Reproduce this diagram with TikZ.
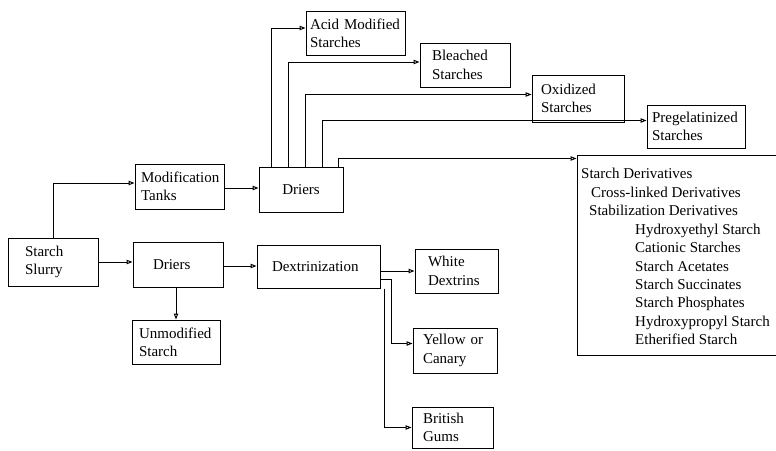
\documentclass[tikz,border=0pt]{standalone}
\usepackage{fontspec}
\setmainfont{Liberation Serif}
\usetikzlibrary{arrows.meta}
\hyphenpenalty=10000
\exhyphenpenalty=10000
\begin{document}
\begin{tikzpicture}[x=1pt,y=-1pt,
  every node/.style={font=\fontsize{15}{18.4}\selectfont},
  box/.style={draw, line width=1pt, inner ysep=0pt, align=left},
  arr/.style={line width=1pt, -{Triangle[open,length=6pt,width=4.5pt]}}]
\useasboundingbox (0,0) rectangle (776,450);
\clip (0,0) rectangle (776,450);
% boxes
\node[box, minimum height=48pt, text width=56pt, inner xsep=17pt] (slurry) at (53,262) {Starch\\Slurry};
\node[box, minimum height=45pt, text width=77pt, inner xsep=6pt] (modtanks) at (179.5,186.5) {Modification\\Tanks};
\node[box, minimum height=45pt, text width=72pt, inner xsep=6pt, align=center] (driers1) at (301,189.5) {Driers};
\node[box, minimum height=45pt, text width=50pt, inner xsep=20pt] (driers2) at (178,264.5) {Driers};
\node[box, minimum height=43pt, text width=93pt, inner xsep=15pt] (dextr) at (318.5,266.5) {Dextrinization};
\node[box, minimum height=44pt, text width=74pt, inner xsep=7pt] (unmod) at (176,342) {Unmodified\\Starch};
\node[box, minimum height=44pt, text width=57pt, inner xsep=13pt] (white) at (456.5,271) {White\\Dextrins};
\node[box, minimum height=45pt, text width=64pt, inner xsep=10pt] (yellow) at (455,350.5) {Yellow or\\Canary};
\node[box, minimum height=41pt, text width=59pt, inner xsep=11pt] (british) at (452.5,427.5) {British\\Gums};
\node[box, minimum height=44pt, text width=91pt, inner xsep=4pt] (acid) at (355.5,33) {Acid Modified\\Starches};
\node[box, minimum height=44pt, text width=66pt, inner xsep=12pt] (bleached) at (465,65) {Bleached\\Starches};
\node[box, minimum height=47pt, text width=74pt, inner xsep=9pt] (oxidized) at (578,98.5) {Oxidized\\Starches};
\node[box, minimum height=43pt, text width=88pt, inner xsep=5pt] (preg) at (696,126.5) {Pregelatinized\\Starches};
\node[draw, line width=1pt, minimum width=203pt, minimum height=200pt, inner sep=0pt] (deriv) at (678.5,255) {};
\node[anchor=north west, inner sep=0pt, align=left] (derivtext) at (581,167.5) {Starch Derivatives\\[1pt]
\hspace*{10pt}Cross-linked Derivatives\\
\hspace*{8pt}Stabilization Derivatives\\
\hspace*{54pt}Hydroxyethyl Starch\\
\hspace*{54pt}Cationic Starches\\
\hspace*{54pt}Starch Acetates\\
\hspace*{54pt}Starch Succinates\\
\hspace*{54pt}Starch Phosphates\\
\hspace*{54pt}Hydroxypropyl Starch\\
\hspace*{54pt}Etherified Starch};
% connectors
\draw[arr] (slurry.north) |- ([yshift=3.5pt]modtanks.west);
\draw[arr] (slurry.east) -- (slurry.east -| driers2.west);
\draw[arr] ([yshift=-1.5pt]modtanks.east) -- ([yshift=-1.5pt]modtanks.east -| driers1.west);
\draw[arr] ([yshift=-1.5pt]driers2.east) -- ([yshift=-1.5pt]driers2.east -| dextr.west);
\draw[arr] ([xshift=-2pt]driers2.south) -- ([xshift=-2pt]driers2.south |- unmod.north);
\draw[arr] (dextr.east |- white.west) -- (white.west);
\draw[arr] ([yshift=-12.5pt]dextr.east) -- ++(11,0) |- ([yshift=7pt]yellow.west);
\draw[arr] ([xshift=4pt]dextr.south east) |- (british.west);
\draw[arr] ([xshift=13pt]driers1.north west) |- ([yshift=5pt]acid.west);
\draw[arr] ([xshift=30pt]driers1.north west) |- ([yshift=3pt]bleached.west);
\draw[arr] ([xshift=47pt]driers1.north west) |- ([yshift=4pt]oxidized.west);
\draw[arr] ([xshift=64pt]driers1.north west) |- ([yshift=6pt]preg.west);
\draw[arr] ([xshift=-5pt]driers1.north east) |- ([yshift=-4pt]deriv.north west);
\end{tikzpicture}
\end{document}
